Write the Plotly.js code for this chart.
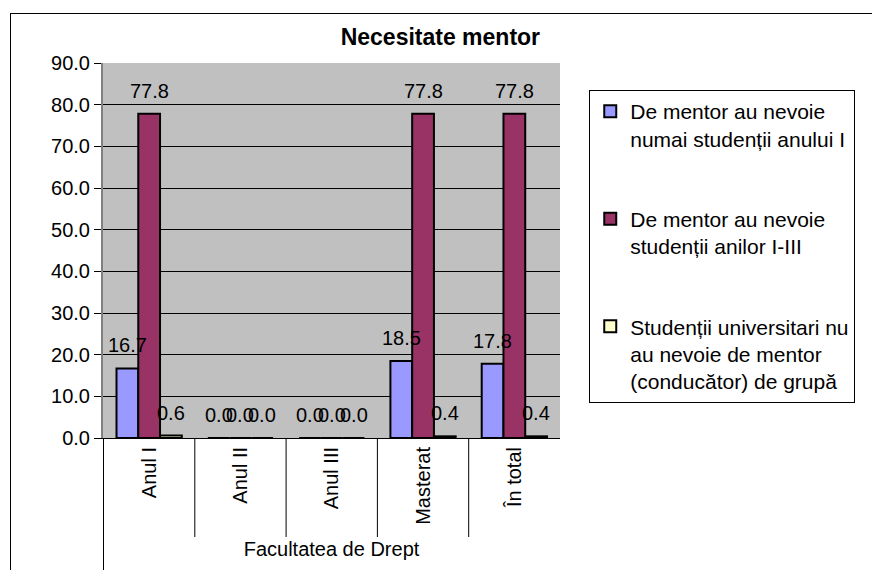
<!DOCTYPE html>
<html>
<head>
<meta charset="utf-8">
<script src="https://cdn.plot.ly/plotly-3.0.1.min.js"></script>
<style>
  body { margin: 0; padding: 0; background: #fff; }
  #wrap { position: relative; width: 872px; height: 570px; overflow: hidden; }
  #chart { width: 872px; height: 570px; }
  #frame { position: absolute; left: 10px; top: 13px; width: 900px; height: 600px; border: 1px solid #000; pointer-events: none; }
</style>
</head>
<body>
<div id="wrap">
  <div id="chart"></div>
  <div id="frame"></div>
</div>
<script>
const categories = ["Anul I", "Anul II", "Anul III", "Masterat", "În total"];
const seriesNames = [
  "De mentor au nevoie<br>numai studenții anului I",
  "De mentor au nevoie<br>studenții anilor I-III",
  "Studenții universitari nu<br>au nevoie de mentor<br>(conducător) de grupă"
];
const valuesFirstYear = [16.7, 0.0, 0.0, 18.5, 17.8];
const valuesYearsI_III = [77.8, 0.0, 0.0, 77.8, 77.8];
const valuesNoMentor = [0.6, 0.0, 0.0, 0.4, 0.4];
const groupLabel = "Facultatea de Drept";
const chartTitle = "Necesitate mentor";

const colors = ["#9999FF", "#993366", "#FFFFCC"];
const allValues = [valuesFirstYear, valuesYearsI_III, valuesNoMentor];
const FONT = "Liberation Sans, Arial, sans-serif";
const FS = 20;

const traces = allValues.map((vals, i) => ({
  type: "bar",
  x: categories,
  y: vals,
  name: seriesNames[i],
  legendgroup: "g" + i,
  marker: { color: colors[i], line: { color: "#000", width: 2 } },
  hoverinfo: "x+y"
}));

// plot geometry used for label offsets within each category group
const plotW = 872 - 103 - 312;
const bargap = 0.285;
const barPx = plotW / categories.length * (1 - bargap) / allValues.length;

const annotations = [];
allValues.forEach((vals, i) => {
  vals.forEach((v, k) => {
    annotations.push({
      x: categories[k], y: v, xref: "x", yref: "y",
      text: v.toFixed(1), showarrow: false,
      xanchor: "center", yanchor: "bottom",
      xshift: (i - 1) * barPx, yshift: 10,
      font: { family: FONT, size: FS, color: "#000" }
    });
  });
});

const shapes = [];
for (let k = 0; k < categories.length; k++) {
  const xb = k - 0.5;
  shapes.push({
    type: "line", xref: "x", yref: "paper",
    x0: xb, x1: xb, y0: 0, y1: k === 0 ? -0.36 : -0.264,
    line: { color: "#000", width: 1 }
  });
}

const layout = {
  width: 872, height: 570,
  margin: { l: 103, r: 312, t: 63, b: 132 },
  paper_bgcolor: "#fff",
  plot_bgcolor: "#C0C0C0",
  font: { family: FONT, size: FS, color: "#000" },
  title: {
    text: "<b>" + chartTitle + "</b>",
    x: 0.505, xref: "container", xanchor: "center",
    y: 0.935, yref: "container", yanchor: "middle",
    font: { family: FONT, size: 23, color: "#000" }
  },
  barmode: "group",
  bargap: bargap,
  bargroupgap: 0,
  xaxis: {
    type: "category",
    tickangle: -90,
    ticks: "",
    showline: true, linecolor: "#000", linewidth: 1,
    showgrid: false,
    tickfont: { family: FONT, size: FS, color: "#000" },
    title: { text: groupLabel, font: { family: FONT, size: FS, color: "#000" }, standoff: 18 }
  },
  yaxis: {
    range: [0, 90],
    dtick: 10,
    tickformat: ".1f",
    ticks: "outside", ticklen: 7, tickcolor: "#000",
    showline: true, linecolor: "#808080", linewidth: 2,
    showgrid: true, gridcolor: "#000", gridwidth: 1,
    zeroline: false,
    tickfont: { family: FONT, size: FS, color: "#000" }
  },
  showlegend: true,
  legend: {
    x: 1.064, xanchor: "left",
    y: 0.928, yanchor: "top",
    bgcolor: "#fff",
    bordercolor: "#000", borderwidth: 1,
    valign: "top",
    tracegroupgap: 50,
    traceorder: "grouped",
    font: { family: FONT, size: 21, color: "#000" }
  },
  annotations: annotations,
  shapes: shapes
};

Plotly.newPlot("chart", traces, layout, { displayModeBar: false, staticPlot: true });
</script>
</body>
</html>
